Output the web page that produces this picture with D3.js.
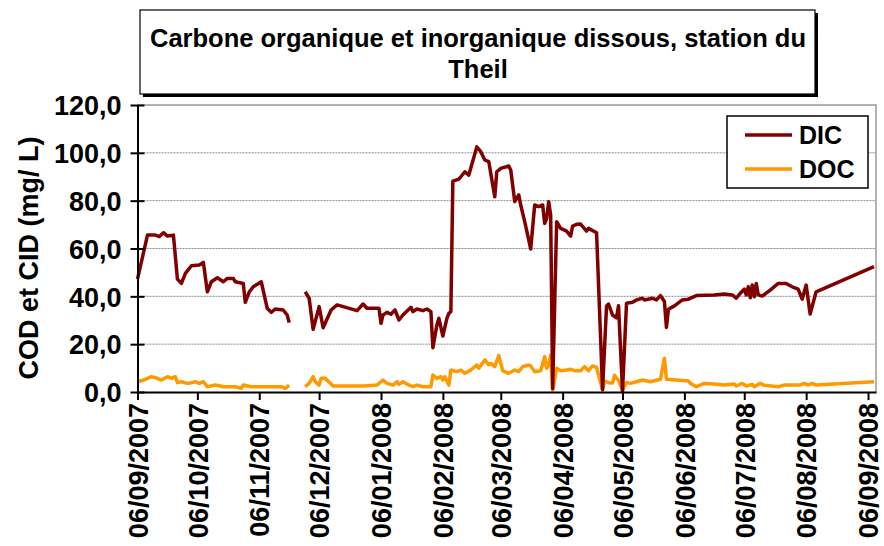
<!DOCTYPE html>
<html lang="fr">
<head>
<meta charset="UTF-8" />
<title>Carbone organique et inorganique dissous</title>
<script src="https://cdn.jsdelivr.net/npm/d3@7"></script>
<style>
  body { margin: 0; background: #fff; }
  text { font-family: Arial, "Liberation Sans", sans-serif; font-weight: bold; fill: #000; }
  .grid line { stroke: #8a8a8a; stroke-width: 1px; stroke-dasharray: 2,1; }
  .axis path, .axis line { stroke: #000; stroke-width: 2px; }
  .dic-line { fill: none; stroke: #800000; stroke-width: 3.5px; stroke-linejoin: round; }
  .doc-line { fill: none; stroke: #ff9900; stroke-width: 3.5px; stroke-linejoin: round; }
</style>
</head>
<body>
<script>
// values (date, mg/L); null marks the gap in sampling
var dicData = [
  ["2007-09-06", 47.2], ["2007-09-11", 65.6], ["2007-09-15", 65.6], ["2007-09-17", 65.0],
  ["2007-09-19", 66.6], ["2007-09-21", 65.2], ["2007-09-24", 65.6], ["2007-09-26", 47.2],
  ["2007-09-28", 45.4], ["2007-09-30", 49.6], ["2007-10-03", 52.8], ["2007-10-07", 53.1],
  ["2007-10-09", 54.2], ["2007-10-11", 41.9], ["2007-10-13", 46.1], ["2007-10-16", 47.8],
  ["2007-10-19", 46.1], ["2007-10-21", 47.5], ["2007-10-24", 47.5], ["2007-10-25", 46.1],
  ["2007-10-29", 45.4], ["2007-10-30", 37.5], ["2007-11-01", 41.9], ["2007-11-03", 44.0],
  ["2007-11-07", 46.1], ["2007-11-10", 35.0], ["2007-11-12", 33.3], ["2007-11-14", 34.7],
  ["2007-11-18", 34.3], ["2007-11-20", 32.2], ["2007-11-21", 29.0], ["2007-11-25", null],
  ["2007-11-29", 41.9], ["2007-12-01", 39.2], ["2007-12-03", 26.2], ["2007-12-06", 35.7],
  ["2007-12-08", 26.9], ["2007-12-12", 34.3], ["2007-12-15", 36.4], ["2007-12-25", 34.0],
  ["2007-12-28", 36.8], ["2007-12-30", 35.0], ["2008-01-05", 35.0], ["2008-01-06", 28.7],
  ["2008-01-07", 32.2], ["2008-01-09", 33.3], ["2008-01-11", 32.5], ["2008-01-13", 34.3],
  ["2008-01-15", 30.1], ["2008-01-17", 32.2], ["2008-01-21", 35.4], ["2008-01-22", 33.6],
  ["2008-01-24", 34.7], ["2008-01-27", 34.0], ["2008-01-29", 34.7], ["2008-01-31", 33.6],
  ["2008-02-01", 18.5], ["2008-02-03", 28.0], ["2008-02-04", 30.8], ["2008-02-06", 23.4],
  ["2008-02-08", 30.8], ["2008-02-09", 32.9], ["2008-02-10", 33.6], ["2008-02-11", 88.2],
  ["2008-02-14", 89.0], ["2008-02-15", 90.0], ["2008-02-17", 92.1], ["2008-02-19", 90.7],
  ["2008-02-23", 102.5], ["2008-02-25", 100.5], ["2008-02-27", 97.0], ["2008-02-29", 96.3],
  ["2008-03-03", 81.6], ["2008-03-04", 92.1], ["2008-03-06", 93.5], ["2008-03-10", 94.5],
  ["2008-03-11", 92.8], ["2008-03-13", 79.6], ["2008-03-15", 82.4], ["2008-03-16", 78.2],
  ["2008-03-18", 71.2], ["2008-03-21", 59.8], ["2008-03-23", 78.2], ["2008-03-25", 77.5],
  ["2008-03-27", 78.2], ["2008-03-28", 70.5], ["2008-03-29", 72.6], ["2008-03-30", 79.6],
  ["2008-03-31", 74.0], ["2008-04-01", 1.5], ["2008-04-03", 71.2], ["2008-04-05", 68.4],
  ["2008-04-08", 67.3], ["2008-04-10", 65.2], ["2008-04-11", 69.4], ["2008-04-13", 70.1],
  ["2008-04-15", 70.2], ["2008-04-18", 67.3], ["2008-04-19", 68.4], ["2008-04-23", 66.6],
  ["2008-04-26", 1.0], ["2008-04-28", 36.0], ["2008-04-29", 36.8], ["2008-05-01", 32.2],
  ["2008-05-03", 31.0], ["2008-05-04", 36.1], ["2008-05-06", 0.5], ["2008-05-08", 37.1],
  ["2008-05-11", 37.5], ["2008-05-13", 38.5], ["2008-05-16", 39.2], ["2008-05-17", 38.5],
  ["2008-05-21", 39.2], ["2008-05-23", 38.5], ["2008-05-25", 40.3], ["2008-05-27", 37.8],
  ["2008-05-28", 27.0], ["2008-05-29", 34.6], ["2008-06-01", 36.0], ["2008-06-05", 38.5],
  ["2008-06-08", 38.8], ["2008-06-12", 40.3], ["2008-06-21", 40.6], ["2008-06-26", 41.0],
  ["2008-06-30", 40.6], ["2008-07-02", 39.2], ["2008-07-04", 41.3], ["2008-07-06", 43.0],
  ["2008-07-07", 40.6], ["2008-07-08", 44.0], ["2008-07-09", 39.4], ["2008-07-10", 44.7],
  ["2008-07-11", 39.8], ["2008-07-12", 45.4], ["2008-07-13", 40.6], ["2008-07-15", 40.1],
  ["2008-07-19", 42.6], ["2008-07-23", 45.4], ["2008-07-27", 45.4], ["2008-07-30", 44.0],
  ["2008-08-02", 43.0], ["2008-08-04", 38.8], ["2008-08-06", 44.7], ["2008-08-08", 32.6],
  ["2008-08-11", 41.9], ["2008-09-09", 52.4]
];

var docData = [
  ["2007-09-06", 4.3], ["2007-09-09", 5.0], ["2007-09-13", 6.4], ["2007-09-15", 6.0],
  ["2007-09-18", 5.0], ["2007-09-21", 6.4], ["2007-09-23", 5.7], ["2007-09-25", 6.4],
  ["2007-09-26", 3.9], ["2007-09-28", 4.3], ["2007-10-01", 3.6], ["2007-10-03", 3.9],
  ["2007-10-05", 4.3], ["2007-10-07", 3.6], ["2007-10-09", 4.3], ["2007-10-11", 2.2],
  ["2007-10-15", 2.9], ["2007-10-19", 2.2], ["2007-10-25", 2.2], ["2007-10-28", 1.5],
  ["2007-10-29", 2.9], ["2007-11-02", 2.2], ["2007-11-17", 2.2], ["2007-11-19", 1.5],
  ["2007-11-21", 2.9], ["2007-11-25", null],
  ["2007-11-29", 2.2], ["2007-12-01", 3.6], ["2007-12-03", 6.4], ["2007-12-04", 4.3],
  ["2007-12-06", 2.9], ["2007-12-07", 5.7], ["2007-12-09", 5.7], ["2007-12-13", 2.5],
  ["2007-12-28", 2.5], ["2008-01-04", 2.9], ["2008-01-05", 3.6], ["2008-01-07", 5.0],
  ["2008-01-09", 3.6], ["2008-01-12", 2.9], ["2008-01-14", 4.3], ["2008-01-15", 3.2],
  ["2008-01-17", 4.3], ["2008-01-19", 3.3], ["2008-01-22", 2.2], ["2008-01-24", 2.9],
  ["2008-01-27", 2.2], ["2008-01-31", 2.2], ["2008-02-01", 7.1], ["2008-02-03", 5.7],
  ["2008-02-05", 6.4], ["2008-02-06", 5.0], ["2008-02-07", 6.4], ["2008-02-09", 2.9],
  ["2008-02-10", 9.2], ["2008-02-13", 8.5], ["2008-02-15", 9.2], ["2008-02-17", 7.8],
  ["2008-02-20", 9.2], ["2008-02-23", 11.3], ["2008-02-24", 9.9], ["2008-02-27", 13.4],
  ["2008-02-29", 11.3], ["2008-03-01", 12.0], ["2008-03-03", 10.6], ["2008-03-05", 15.2],
  ["2008-03-07", 8.8], ["2008-03-10", 7.8], ["2008-03-13", 9.2], ["2008-03-15", 8.5],
  ["2008-03-17", 10.6], ["2008-03-20", 11.3], ["2008-03-21", 10.9], ["2008-03-23", 8.5],
  ["2008-03-26", 8.9], ["2008-03-28", 14.8], ["2008-03-29", 9.9], ["2008-03-30", 11.3],
  ["2008-03-31", 15.5], ["2008-04-01", 0.8], ["2008-04-03", 9.9], ["2008-04-05", 8.9],
  ["2008-04-08", 9.2], ["2008-04-10", 9.5], ["2008-04-12", 8.9], ["2008-04-15", 8.9],
  ["2008-04-17", 10.6], ["2008-04-19", 8.9], ["2008-04-21", 10.9], ["2008-04-23", 10.3],
  ["2008-04-26", 0.8], ["2008-04-27", 4.6], ["2008-04-29", 3.9], ["2008-05-01", 3.8],
  ["2008-05-02", 7.0], ["2008-05-04", 4.8], ["2008-05-06", 0.8], ["2008-05-08", 4.0],
  ["2008-05-10", 3.6], ["2008-05-13", 4.3], ["2008-05-16", 5.0], ["2008-05-20", 4.3],
  ["2008-05-25", 5.3], ["2008-05-27", 14.1], ["2008-05-28", 5.3], ["2008-06-02", 5.0],
  ["2008-06-08", 4.6], ["2008-06-09", 3.6], ["2008-06-12", 2.2], ["2008-06-16", 3.6],
  ["2008-06-21", 3.3], ["2008-06-26", 2.9], ["2008-07-01", 3.3], ["2008-07-02", 2.5],
  ["2008-07-05", 3.6], ["2008-07-07", 2.5], ["2008-07-10", 3.2], ["2008-07-11", 2.2],
  ["2008-07-14", 3.6], ["2008-07-16", 2.8], ["2008-07-23", 2.2], ["2008-07-26", 2.9],
  ["2008-08-03", 2.9], ["2008-08-05", 3.6], ["2008-08-07", 2.9], ["2008-08-09", 3.6],
  ["2008-08-11", 2.9], ["2008-09-09", 4.3]
];

var xTickDates = ["2007-09-06", "2007-10-06", "2007-11-06", "2007-12-06", "2008-01-06",
  "2008-02-06", "2008-03-06", "2008-04-06", "2008-05-06", "2008-06-06", "2008-07-06",
  "2008-08-06", "2008-09-06"];
var yTicks = [0, 20, 40, 60, 80, 100, 120];
var seriesNames = ["DIC", "DOC"];
var titleLines = ["Carbone organique et inorganique dissous, station du", "Theil"];
var yLabel = "COD et CID (mg/ L)";

var w = 884, h = 546;
var plot = { left: 137.5, right: 876, top: 105, bottom: 392 };

var parse = d3.timeParse("%Y-%m-%d");
var fmtDate = d3.timeFormat("%d/%m/%Y");
var fmtVal = function(d) { return d3.format(".1f")(d).replace(".", ","); };

var svg = d3.select("body").append("svg")
  .attr("width", w)
  .attr("height", h);

var xScale = d3.scaleTime()
  .domain([parse("2007-09-06"), parse("2008-09-10")])
  .range([plot.left, plot.right]);

var yScale = d3.scaleLinear()
  .domain([0, 120])
  .range([plot.bottom, plot.top]);

// grid
svg.append("g")
  .attr("class", "grid")
  .selectAll("line")
  .data(yTicks.filter(function(d) { return d > 0 && d < 120; }))
  .enter()
  .append("line")
  .attr("x1", plot.left)
  .attr("x2", plot.right)
  .attr("y1", function(d) { return yScale(d); })
  .attr("y2", function(d) { return yScale(d); });

// plot area border (top + right)
svg.append("path")
  .attr("d", "M" + plot.left + "," + plot.top + "H" + plot.right + "V" + plot.bottom)
  .attr("fill", "none")
  .attr("stroke", "#9a9a9a")
  .attr("stroke-width", 1.5);

var line = d3.line()
  .defined(function(d) { return d[1] != null; })
  .x(function(d) { return xScale(parse(d[0])); })
  .y(function(d) { return yScale(d[1]); });

svg.append("path").datum(docData).attr("class", "doc-line").attr("d", line);
svg.append("path").datum(dicData).attr("class", "dic-line").attr("d", line);

// axes
var xAxis = d3.axisBottom(xScale)
  .tickValues(xTickDates.map(parse))
  .tickFormat(fmtDate)
  .tickSizeInner(8)
  .tickSizeOuter(0);

var gx = svg.append("g")
  .attr("class", "axis")
  .attr("transform", "translate(0," + plot.bottom + ")")
  .call(xAxis);

gx.selectAll("text")
  .attr("font-size", 27)
  .attr("transform", "rotate(-90)")
  .attr("text-anchor", "end")
  .attr("x", -11)
  .attr("y", 0)
  .attr("dy", "0.36em");

var yAxis = d3.axisLeft(yScale)
  .tickValues(yTicks)
  .tickFormat(fmtVal)
  .tickSizeInner(7)
  .tickSizeOuter(0);

var gy = svg.append("g")
  .attr("class", "axis")
  .attr("transform", "translate(" + plot.left + ",0)")
  .call(yAxis);

gy.selectAll(".tick line").attr("x2", 7).attr("x1", -7);
gy.selectAll("text")
  .attr("font-size", 27)
  .attr("x", -16)
  .attr("dy", "0.36em");

svg.selectAll(".axis .domain").attr("stroke-width", 2);

// y label
svg.append("text")
  .attr("transform", "translate(38,258) rotate(-90)")
  .attr("text-anchor", "middle")
  .attr("font-size", 27)
  .text(yLabel);

// title box with shadow
svg.append("rect")
  .attr("x", 143).attr("y", 13)
  .attr("width", 675).attr("height", 84)
  .attr("fill", "#000");
svg.append("rect")
  .attr("x", 140).attr("y", 10)
  .attr("width", 675).attr("height", 84)
  .attr("fill", "#fff")
  .attr("stroke", "#000")
  .attr("stroke-width", 1.2);

svg.selectAll(".title")
  .data(titleLines)
  .enter()
  .append("text")
  .attr("class", "title")
  .attr("x", 478)
  .attr("y", function(d, i) { return 47 + i * 31; })
  .attr("text-anchor", "middle")
  .attr("font-size", 25.5)
  .text(function(d) { return d; });

// legend
var legend = svg.append("g");
legend.append("rect")
  .attr("x", 727).attr("y", 116)
  .attr("width", 141).attr("height", 72)
  .attr("fill", "#fff")
  .attr("stroke", "#000")
  .attr("stroke-width", 1.5);

var items = legend.selectAll(".item")
  .data(seriesNames)
  .enter()
  .append("g")
  .attr("class", "item")
  .attr("transform", function(d, i) { return "translate(0," + (135 + i * 34) + ")"; });

items.append("line")
  .attr("x1", 745).attr("x2", 792)
  .attr("y1", 0).attr("y2", 0)
  .attr("class", function(d) { return d === "DIC" ? "dic-line" : "doc-line"; });

items.append("text")
  .attr("x", 799)
  .attr("dy", "0.36em")
  .attr("font-size", 25)
  .text(function(d) { return d; });
</script>
</body>
</html>
